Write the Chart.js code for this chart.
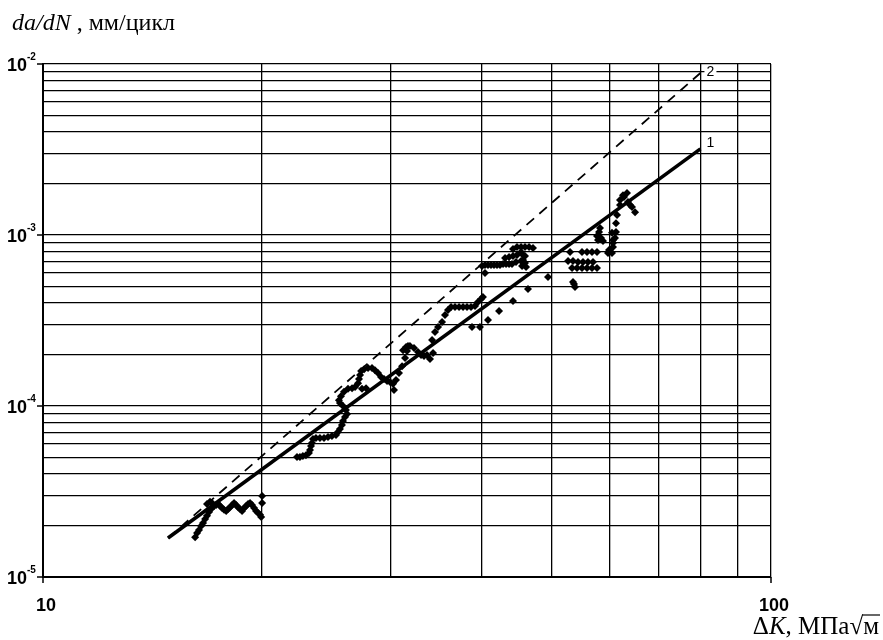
<!DOCTYPE html>
<html>
<head>
<meta charset="utf-8">
<title>da/dN - ΔK</title>
<script src="https://cdn.jsdelivr.net/npm/chart.js@4.4.0/dist/chart.umd.min.js"></script>
<style>
  body { margin: 0; background: #fff; }
  #wrap { width: 883px; height: 640px; }
</style>
</head>
<body>
<div id="wrap"><canvas id="myChart" width="883" height="640"></canvas></div>
<script>
// сетка и подписи осей
const xTicks = [10, 20, 30, 40, 50, 60, 70, 80, 90, 100];
const yTicks = [
  1e-5, 2e-5, 3e-5, 4e-5, 5e-5, 6e-5, 7e-5, 8e-5, 9e-5,
  1e-4, 2e-4, 3e-4, 4e-4, 5e-4, 6e-4, 7e-4, 8e-4, 9e-4,
  1e-3, 2e-3, 3e-3, 4e-3, 5e-3, 6e-3, 7e-3, 8e-3, 9e-3,
  1e-2
];
const yDecades = [1e-5, 1e-4, 1e-3, 1e-2];
const yDecadeExp = ['-5', '-4', '-3', '-2'];
const xLabelValues = [10, 100];
const xLabelTexts = ['10', '100'];

// экспериментальные точки (ΔK, da/dN)
const deltaK = [
  16.18, 16.28, 16.38, 16.49, 16.59, 16.70, 16.80, 16.91, 17.02, 17.18,
  17.29, 17.40, 17.51, 17.62, 17.73, 17.85, 17.96, 18.07, 18.19, 18.30,
  18.42, 18.53, 18.65, 18.77, 18.89, 19.01, 19.13, 19.25, 19.37, 19.50,
  19.62, 19.75, 19.87, 19.94, 20.0, 20.0, 16.80, 16.96, 17.07,
  22.33, 22.54, 22.75, 22.97, 23.19, 23.27, 23.34, 23.41, 23.49, 23.71,
  24.01, 24.32, 24.63, 24.94, 25.26, 25.42, 25.58, 25.74, 25.83, 25.99,
  26.16, 26.07, 25.83, 25.58, 25.50, 25.66, 25.91, 26.24, 26.58, 26.83,
  27.09, 27.17, 27.26, 27.35, 27.61, 27.96, 28.31, 28.58, 28.85, 29.13,
  29.41, 29.69, 29.97, 30.26, 30.35, 30.54, 30.83, 31.13, 31.43, 31.62,
  31.72, 27.43, 27.78,
  31.23, 31.53, 31.92, 32.33, 32.74, 33.06, 33.37, 33.69, 34.01, 34.34,
  34.23, 34.55, 34.89, 35.33, 35.66, 36.00, 36.35, 36.81, 37.28, 37.76,
  38.23, 38.72, 39.21, 39.58, 39.96, 40.21,
  38.84, 39.83, 40.86, 42.31, 44.22, 46.37, 49.39,
  40.09, 40.47, 40.86, 41.25, 41.64, 42.04, 42.44, 42.85, 43.26, 43.67,
  44.08, 40.47,
  43.12, 43.67, 44.22, 44.78, 44.22, 44.78, 45.36, 45.93, 46.52, 47.11,
  45.36, 45.93, 45.36, 45.93, 45.50, 46.08, 44.64, 45.64, 45.64,
  52.96, 55.00, 55.88, 56.77, 57.68,
  52.63, 53.46, 54.31, 55.18, 56.05, 56.95,
  53.30, 54.14, 55.00, 55.88, 56.77, 57.68,
  53.46, 53.63, 53.80,
  57.68, 58.05, 58.41, 58.78, 57.86, 58.23,
  59.72, 59.91, 60.48, 60.67, 60.67, 60.67, 60.48, 61.06, 61.25, 61.25, 61.45,
  62.03, 62.03, 62.62, 63.42, 62.81, 63.62, 64.03, 64.43, 65.05
];
const rate = [
  1.71e-5, 1.81e-5, 1.88e-5, 1.99e-5, 2.07e-5, 2.18e-5, 2.28e-5, 2.40e-5, 2.50e-5, 2.60e-5,
  2.64e-5, 2.67e-5, 2.60e-5, 2.53e-5, 2.47e-5, 2.43e-5, 2.50e-5, 2.56e-5, 2.64e-5, 2.71e-5,
  2.64e-5, 2.56e-5, 2.50e-5, 2.43e-5, 2.53e-5, 2.60e-5, 2.67e-5, 2.71e-5, 2.64e-5, 2.53e-5,
  2.43e-5, 2.37e-5, 2.31e-5, 2.24e-5, 2.71e-5, 2.98e-5, 2.67e-5, 2.75e-5, 2.71e-5,
  5.03e-5, 5.03e-5, 5.10e-5, 5.16e-5, 5.31e-5, 5.53e-5, 5.83e-5, 6.08e-5, 6.41e-5, 6.50e-5,
  6.50e-5, 6.50e-5, 6.59e-5, 6.68e-5, 6.76e-5, 7.05e-5, 7.33e-5, 7.74e-5, 8.17e-5, 8.63e-5,
  8.98e-5, 9.48e-5, 1.00e-4, 1.04e-4, 1.08e-4, 1.14e-4, 1.21e-4, 1.26e-4, 1.27e-4, 1.29e-4,
  1.36e-4, 1.44e-4, 1.52e-4, 1.60e-4, 1.64e-4, 1.67e-4, 1.67e-4, 1.62e-4, 1.56e-4, 1.48e-4,
  1.44e-4, 1.40e-4, 1.38e-4, 1.35e-4, 1.24e-4, 1.42e-4, 1.56e-4, 1.71e-4, 1.91e-4, 2.10e-4,
  2.24e-4, 1.26e-4, 1.27e-4,
  2.12e-4, 2.21e-4, 2.24e-4, 2.18e-4, 2.07e-4, 1.99e-4, 1.96e-4, 1.99e-4, 1.88e-4, 2.04e-4,
  2.43e-4, 2.71e-4, 2.90e-4, 3.10e-4, 3.40e-4, 3.64e-4, 3.79e-4, 3.79e-4, 3.79e-4, 3.79e-4,
  3.79e-4, 3.79e-4, 3.85e-4, 4.06e-4, 4.23e-4, 4.34e-4,
  2.90e-4, 2.90e-4, 3.18e-4, 3.59e-4, 4.11e-4, 4.83e-4, 5.68e-4,
  6.59e-4, 6.68e-4, 6.68e-4, 6.68e-4, 6.68e-4, 6.68e-4, 6.68e-4, 6.76e-4, 6.76e-4, 6.76e-4,
  6.76e-4, 6.00e-4,
  7.33e-4, 7.43e-4, 7.54e-4, 7.64e-4, 8.28e-4, 8.51e-4, 8.51e-4, 8.51e-4, 8.51e-4, 8.39e-4,
  7.96e-4, 7.54e-4, 7.05e-4, 6.86e-4, 6.59e-4, 6.50e-4, 6.95e-4, 7.64e-4, 7.14e-4,
  7.96e-4, 7.96e-4, 7.96e-4, 7.96e-4, 7.96e-4,
  7.05e-4, 7.05e-4, 6.95e-4, 6.95e-4, 6.95e-4, 6.95e-4,
  6.41e-4, 6.41e-4, 6.41e-4, 6.41e-4, 6.41e-4, 6.41e-4,
  5.31e-4, 5.17e-4, 4.97e-4,
  9.86e-4, 1.04e-3, 9.60e-4, 9.23e-4, 9.35e-4, 1.10e-3,
  7.85e-4, 8.17e-4, 7.85e-4, 8.51e-4, 8.98e-4, 9.35e-4, 1.03e-3, 9.60e-4, 1.04e-3, 1.17e-3, 1.31e-3,
  1.50e-3, 1.60e-3, 1.71e-3, 1.76e-3, 1.67e-3, 1.56e-3, 1.50e-3, 1.46e-3, 1.36e-3
];

// расчётные кривые 1 и 2
const line1K = [14.85, 80];
const line1Rate = [1.69e-5, 3.19e-3];
const line2K = [14.85, 80];
const line2Rate = [1.69e-5, 8.86e-3];

const pts = deltaK.map((k, i) => ({x: k, y: rate[i]}));
const l1 = line1K.map((k, i) => ({x: k, y: line1Rate[i]}));
const l2 = line2K.map((k, i) => ({x: k, y: line2Rate[i]}));

const SANS = '"Liberation Sans", Arial, sans-serif';
const SERIF = '"Liberation Serif", "Times New Roman", serif';

// подписи, которые Chart.js сам не рисует (степени, номера кривых, названия осей)
const decor = {
  id: 'decor',
  afterDraw(chart) {
    const ctx = chart.ctx;
    const xs = chart.scales.x, ys = chart.scales.y;
    ctx.save();
    ctx.fillStyle = '#000';
    ctx.strokeStyle = '#000';
    ctx.lineWidth = 1.5;

    yDecades.forEach((v, i) => {
      const y = Math.round(ys.getPixelForValue(v));
      ctx.beginPath(); ctx.moveTo(xs.left - 6, y); ctx.lineTo(xs.left, y); ctx.stroke();
      ctx.font = 'bold 18px ' + SANS;
      ctx.textAlign = 'right';
      ctx.textBaseline = 'middle';
      ctx.fillText('10', 27, y + 2);
      ctx.font = 'bold 10px ' + SANS;
      ctx.textAlign = 'left';
      ctx.fillText(yDecadeExp[i], 27, y - 7);
    });

    xLabelValues.forEach((v, i) => {
      const x = Math.round(xs.getPixelForValue(v));
      ctx.beginPath(); ctx.moveTo(x, ys.bottom); ctx.lineTo(x, ys.bottom + 6); ctx.stroke();
      ctx.font = 'bold 18px ' + SANS;
      ctx.textAlign = 'center';
      ctx.textBaseline = 'middle';
      ctx.fillText(xLabelTexts[i], x + 3, 606);
    });

    // номера кривых
    ctx.font = '14px ' + SANS;
    ctx.textAlign = 'left';
    ctx.textBaseline = 'middle';
    const e1x = xs.getPixelForValue(line1K[1]), e1y = ys.getPixelForValue(line1Rate[1]);
    ctx.fillText('1', e1x + 6, e1y - 6);
    const e2x = xs.getPixelForValue(line2K[1]), e2y = ys.getPixelForValue(line2Rate[1]);
    ctx.fillStyle = '#fff';
    ctx.fillRect(e2x + 4, e2y - 8, 12, 14);
    ctx.fillStyle = '#000';
    ctx.fillText('2', e2x + 6, e2y - 1);

    // название оси Y
    ctx.textBaseline = 'alphabetic';
    let tx = 12;
    ctx.font = 'italic 24px ' + SERIF;
    ctx.fillText('da/dN', tx, 30);
    tx += ctx.measureText('da/dN').width;
    ctx.font = '24px ' + SERIF;
    ctx.fillText(' , мм/цикл', tx, 30);

    // название оси X (прижато к правому краю)
    const by = 634;
    const parts = [['Δ', ''], ['K', 'italic '], [', МПа', ''], ['√', '']];
    ctx.font = '25px ' + SERIF;
    const mw = ctx.measureText('м').width;
    let total = mw;
    parts.forEach(p => { ctx.font = p[1] + '25px ' + SERIF; total += ctx.measureText(p[0]).width; });
    tx = 879 - total;
    parts.forEach(p => {
      ctx.font = p[1] + '25px ' + SERIF;
      ctx.fillText(p[0], tx, by);
      tx += ctx.measureText(p[0]).width;
    });
    ctx.font = '25px ' + SERIF;
    ctx.fillText('м', tx, by);
    ctx.lineWidth = 1.2;
    ctx.beginPath(); ctx.moveTo(tx - 1, by - 19); ctx.lineTo(tx + mw + 1, by - 19); ctx.stroke();

    ctx.restore();
  }
};

const ctx = document.getElementById('myChart').getContext('2d');
const chart = new Chart(ctx, {
  type: 'scatter',
  data: {
    datasets: [
      {
        data: pts,
        pointStyle: 'rectRot',
        pointRadius: 4,
        backgroundColor: '#000',
        borderColor: '#000',
        borderWidth: 0,
        showLine: false
      },
      {
        data: l1,
        showLine: true,
        borderColor: '#000',
        borderWidth: 3.6,
        pointRadius: 0
      },
      {
        data: l2,
        showLine: true,
        borderColor: '#000',
        borderWidth: 1.8,
        borderDash: [10, 7],
        pointRadius: 0
      }
    ]
  },
  options: {
    responsive: false,
    animation: false,
    layout: { padding: { left: 43, right: 112, top: 64, bottom: 63 } },
    plugins: {
      legend: { display: false },
      tooltip: { enabled: false }
    },
    scales: {
      x: {
        type: 'logarithmic',
        min: 10,
        max: 100,
        afterBuildTicks: (s) => { s.ticks = xTicks.map(v => ({value: v})); },
        ticks: { display: false },
        grid: { color: '#000', lineWidth: 1.3, drawTicks: false },
        border: { display: true, color: '#000', width: 2 }
      },
      y: {
        type: 'logarithmic',
        min: 1e-5,
        max: 1e-2,
        afterBuildTicks: (s) => { s.ticks = yTicks.map(v => ({value: v})); },
        ticks: { display: false },
        grid: { color: '#000', lineWidth: 1.2, drawTicks: false },
        border: { display: true, color: '#000', width: 2 }
      }
    }
  },
  plugins: [decor]
});
</script>
</body>
</html>
